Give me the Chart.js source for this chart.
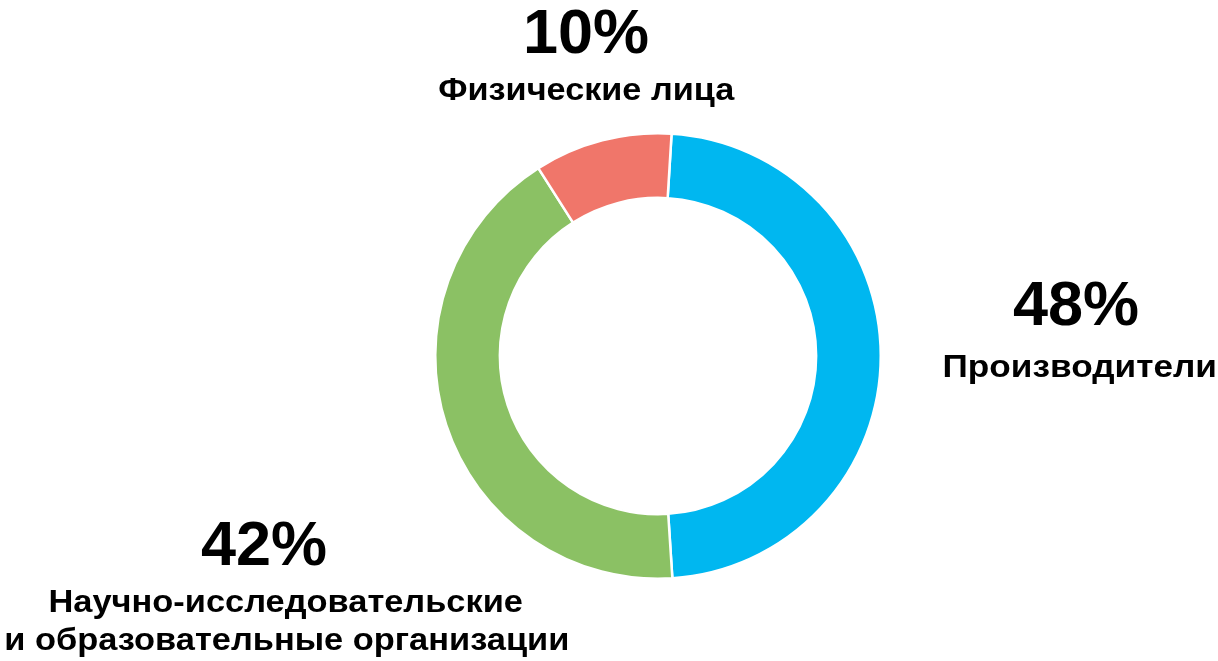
<!DOCTYPE html>
<html>
<head>
<meta charset="utf-8">
<script src="https://cdn.jsdelivr.net/npm/chart.js@4.4.1/dist/chart.umd.min.js"></script>
<style>
  html, body { margin: 0; padding: 0; background: #fff; }
  body { width: 1218px; height: 661px; position: relative; overflow: hidden;
         font-family: "Liberation Sans", Arial, sans-serif; font-weight: bold; color: #000; }
  #wrap { position: absolute; left: 0; top: 0; width: 1218px; height: 661px; }
  .lbl { position: absolute; white-space: nowrap; transform-origin: center top; }
  .pct { font-size: 63px; line-height: 63px; }
  .name { font-size: 32px; line-height: 32px; }
</style>
</head>
<body>
<div id="wrap"><canvas id="chart"></canvas></div>
<script>
// shares in percent, clockwise from the top
const categories = ['Производители', 'Научно-исследовательские\nи образовательные организации', 'Физические лица'];
const shares = [48, 42, 10];
const colors = ['#00B7F0', '#8BC164', '#F0766A'];

// label layout: center x of the percent and of each name line, baselines
const labelPos = [
    { pctX: 1076, pctBase: 325, nameX: [1080], nameBase: [377], stretch: 1.10 },
    { pctX: 264, pctBase: 565, nameX: [285, 287], nameBase: [612, 650], stretch: 1.075 },
    { pctX: 586, pctBase: 53, nameX: [586], nameBase: [100], stretch: 1.07 }
];

const ctx = document.getElementById('chart').getContext('2d');

new Chart(ctx, {
    type: 'doughnut',
    data: {
        labels: categories,
        datasets: [{
            data: shares,
            backgroundColor: colors,
            borderColor: '#ffffff',
            borderWidth: 2.5,
            hoverOffset: 0
        }]
    },
    options: {
        responsive: true,
        maintainAspectRatio: false,
        animation: false,
        rotation: 3.5,
        cutout: '71%',
        layout: { padding: { left: 434, right: 336, top: 132, bottom: 81 } },
        plugins: {
            legend: { display: false },
            tooltip: { enabled: false }
        }
    }
});

// put one line of text so that its center is at x and its baseline at base
function addLine(text, cls, x, base, fontSize, stretch) {
    const d = document.createElement('div');
    d.className = 'lbl ' + cls;
    d.textContent = text;
    document.body.appendChild(d);
    const w = d.offsetWidth;
    d.style.left = (x - w / 2) + 'px';
    d.style.top = (base - 0.8465 * fontSize) + 'px';
    d.style.transform = `scaleX(${stretch})`;
}

categories.forEach((name, i) => {
    const p = labelPos[i];
    addLine(shares[i] + '%', 'pct', p.pctX, p.pctBase, 63, 1);
    name.split('\n').forEach((line, j) => {
        addLine(line, 'name', p.nameX[j], p.nameBase[j], 32, p.stretch);
    });
});
</script>
</body>
</html>
